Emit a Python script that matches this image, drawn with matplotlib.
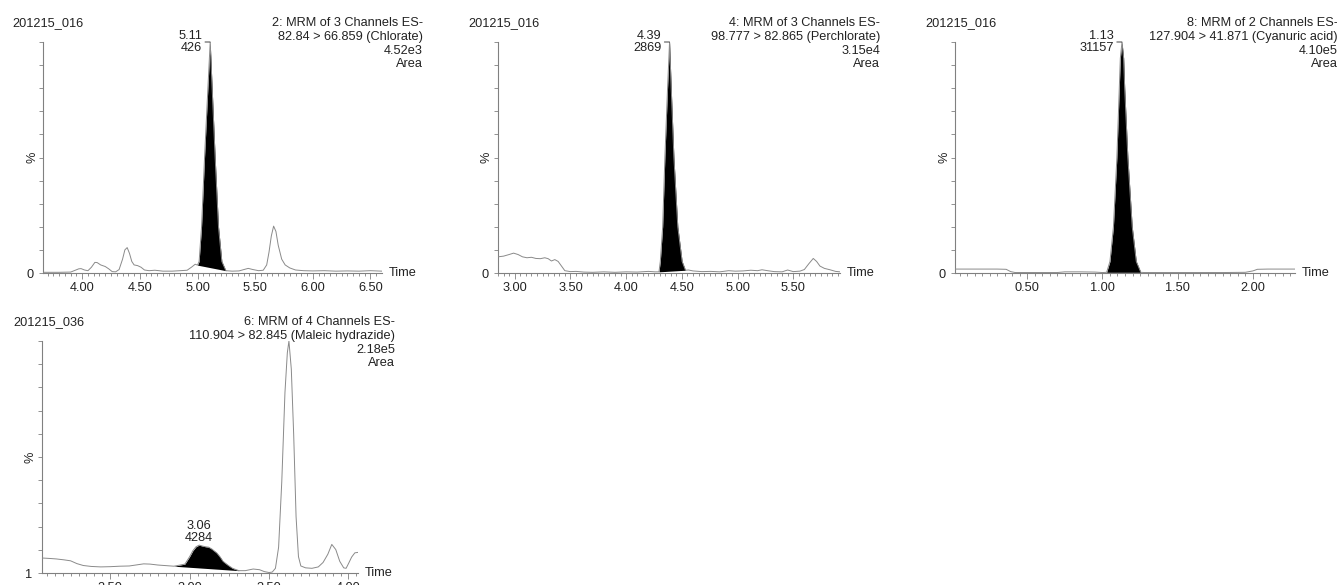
import matplotlib
matplotlib.use("Agg")
import matplotlib.pyplot as plt
from matplotlib.transforms import offset_copy
import numpy as np

plt.rcParams['font.family'] = ['Liberation Sans', 'DejaVu Sans']
plt.rcParams['font.size'] = 9.2

W, H = 1337, 585
TXT = '#222222'
AXC = '#808080'
LINE = '#8a8a8a'

# ---- panel 1: chlorate ----
p1_time = [3.66, 3.80, 3.90, 3.94, 3.97, 3.99, 4.02, 4.05, 4.08, 4.11, 4.13, 4.16, 4.20, 4.23,
           4.26, 4.29, 4.32, 4.35, 4.37, 4.39, 4.41, 4.43, 4.45, 4.48, 4.51, 4.54, 4.58, 4.63,
           4.70, 4.78, 4.85, 4.91, 4.95, 4.98, 5.00, 5.014, 5.035, 5.061, 5.09, 5.11, 5.127,
           5.153, 5.182, 5.211, 5.246, 5.30, 5.36, 5.41, 5.44, 5.48, 5.53, 5.57, 5.60, 5.62,
           5.64, 5.66, 5.68, 5.70, 5.73, 5.76, 5.80, 5.85, 5.92, 6.00, 6.10, 6.20, 6.30, 6.40,
           6.50, 6.60]
p1_pct = [0.3, 0.3, 0.4, 1.2, 1.8, 1.9, 1.3, 1.0, 2.5, 4.6, 4.5, 3.5, 2.8, 1.8,
          0.6, 0.5, 1.5, 6.0, 10.0, 11.0, 8.5, 5.0, 3.5, 3.2, 2.5, 1.3, 1.0, 1.2,
          0.8, 0.8, 1.0, 1.2, 2.6, 3.8, 3.4, 5.0, 20.0, 50.0, 80.0, 100.0, 80.0,
          50.0, 20.0, 5.0, 1.0, 0.8, 0.9, 1.6, 2.0, 1.5, 1.0, 1.2, 3.5, 9.0,
          16.0, 20.3, 18.0, 12.0, 6.0, 3.5, 2.2, 1.3, 1.0, 0.9, 1.0, 0.8, 0.9, 0.8,
          1.0, 0.8]

# ---- panel 2: perchlorate ----
p2_time = [2.85, 2.90, 2.95, 2.99, 3.03, 3.07, 3.11, 3.15, 3.19, 3.23, 3.27, 3.30, 3.33, 3.36,
           3.39, 3.42, 3.45, 3.50, 3.55, 3.62, 3.70, 3.80, 3.90, 4.00, 4.10, 4.20, 4.26, 4.295,
           4.307, 4.328, 4.348, 4.372, 4.39, 4.405, 4.429, 4.464, 4.503, 4.533, 4.56, 4.60,
           4.68, 4.76, 4.84, 4.92, 4.98, 5.05, 5.12, 5.18, 5.22, 5.27, 5.33, 5.40, 5.45, 5.50,
           5.56, 5.60, 5.64, 5.68, 5.71, 5.74, 5.78, 5.83, 5.88, 5.92]
p2_pct = [7.0, 7.3, 8.0, 8.6, 8.0, 7.0, 6.6, 6.8, 6.3, 6.2, 6.6, 6.2, 5.2, 5.8,
          5.0, 3.0, 1.0, 0.6, 0.7, 0.4, 0.3, 0.5, 0.3, 0.5, 0.4, 0.7, 0.5, 0.5,
          5.0, 20.0, 50.0, 80.0, 100.0, 80.0, 50.0, 20.0, 5.0, 1.2, 1.3, 0.9,
          0.6, 0.7, 0.5, 1.0, 0.8, 0.9, 1.2, 1.0, 1.4, 1.0, 0.6, 0.5, 1.3, 0.6,
          0.8, 1.5, 4.0, 6.3, 5.0, 3.0, 2.0, 1.4, 0.7, 0.5]

# ---- panel 3: cyanuric acid ----
p3_time = [0.02, 0.10, 0.20, 0.30, 0.36, 0.39, 0.42, 0.50, 0.60, 0.70, 0.75, 0.85, 0.95, 1.00,
           1.028, 1.05, 1.073, 1.096, 1.112, 1.119, 1.13, 1.141, 1.148, 1.169, 1.198, 1.225,
           1.255, 1.28, 1.40, 1.60, 1.80, 1.95, 2.00, 2.03, 2.10, 2.20, 2.28]
p3_pct = [1.7, 1.7, 1.7, 1.7, 1.6, 0.6, 0.2, 0.2, 0.2, 0.2, 0.5, 0.5, 0.4, 0.2,
          0.3, 5.0, 20.0, 50.0, 80.0, 93.0, 100.0, 93.0, 80.0, 50.0, 20.0, 5.0,
          0.3, 0.2, 0.2, 0.2, 0.2, 0.3, 0.9, 1.6, 1.7, 1.7, 1.7]

# ---- panel 4: maleic hydrazide ----
p4_time = [2.07, 2.12, 2.16, 2.21, 2.25, 2.29, 2.33, 2.38, 2.44, 2.50, 2.56, 2.62, 2.67, 2.71,
           2.75, 2.80, 2.86, 2.90, 2.94, 2.97, 3.00, 3.02, 3.04, 3.06, 3.08, 3.10, 3.12, 3.14,
           3.17, 3.19, 3.21, 3.24, 3.27, 3.31, 3.35, 3.40, 3.44, 3.47, 3.50, 3.52, 3.54, 3.56,
           3.58, 3.60, 3.615, 3.625, 3.64, 3.655, 3.67, 3.685, 3.70, 3.73, 3.77, 3.81, 3.84,
           3.87, 3.895, 3.92, 3.945, 3.97, 3.985, 4.00, 4.02, 4.04, 4.06]
p4_pct = [7.4, 7.2, 7.0, 6.6, 6.2, 5.0, 4.2, 3.8, 3.6, 3.7, 3.9, 4.0, 4.5, 4.9,
          4.8, 4.4, 4.1, 3.9, 4.4, 4.8, 8.0, 10.5, 12.2, 12.9, 12.5, 12.2, 12.0, 11.2,
          9.6, 8.0, 6.0, 4.4, 3.0, 2.0, 2.0, 2.7, 2.4, 1.6, 1.2, 1.4, 3.0, 12.0,
          40.0, 78.0, 95.0, 100.0, 88.0, 60.0, 25.0, 8.0, 4.0, 3.2, 3.0, 3.6, 5.5,
          9.0, 13.2, 11.0, 6.0, 3.2, 3.0, 5.0, 7.8, 9.6, 9.8]

samples = ['201215_016', '201215_016', '201215_016', '201215_036']
headers = [
    ['2: MRM of 3 Channels ES-', '82.84 > 66.859 (Chlorate)', '4.52e3', 'Area'],
    ['4: MRM of 3 Channels ES-', '98.777 > 82.865 (Perchlorate)', '3.15e4', 'Area'],
    ['8: MRM of 2 Channels ES-', '127.904 > 41.871 (Cyanuric acid)', '4.10e5', 'Area'],
    ['6: MRM of 4 Channels ES-', '110.904 > 82.845 (Maleic hydrazide)', '2.18e5', 'Area'],
]
peak_rt = ['5.11', '4.39', '1.13', '3.06']
peak_area = ['426', '2869', '31157', '4284']
# integration: (start time, start %, end time, end %)
integ = [(5.00, 3.4, 5.246, 1.0), (4.295, 0.5, 4.533, 1.2),
         (1.028, 0.3, 1.255, 0.3), (2.90, 3.9, 3.31, 2.0)]
xlims = [(3.66, 6.60), (2.85, 5.92), (0.02, 2.28), (2.07, 4.06)]
xticklabels = [['4.00', '4.50', '5.00', '5.50', '6.00', '6.50'],
               ['3.00', '3.50', '4.00', '4.50', '5.00', '5.50'],
               ['0.50', '1.00', '1.50', '2.00'],
               ['2.50', '3.00', '3.50', '4.00']]
ybottom = [0, 0, 0, 1]

# pixel boxes: left, top, right, bottom
boxes = [(43, 42, 382, 273), (498, 42, 840, 273), (955, 42, 1295, 273), (42, 341, 358, 573)]
name_x = [12, 468, 925, 13]
head_right = [423, 880, 1338, 395]
head_top = [23, 23, 23, 322]

traces = [(p1_time, p1_pct), (p2_time, p2_pct), (p3_time, p3_pct), (p4_time, p4_pct)]

fig = plt.figure(figsize=(W / 100, H / 100), dpi=100)

for i in range(4):
    l, t, r, b = boxes[i]
    ax = fig.add_axes([l / W, 1 - b / H, (r - l) / W, (b - t) / H])
    tt = np.array(traces[i][0])
    yy = np.array(traces[i][1])

    # integrated peak, filled black down to a straight baseline
    t0, y0, t1, y1 = integ[i]
    m = (tt >= t0 - 1e-9) & (tt <= t1 + 1e-9)
    base = np.interp(tt[m], [t0, t1], [y0, y1])
    ax.fill_between(tt[m], base, yy[m], color='black', lw=0, zorder=2)
    ax.plot(tt, yy, color=LINE, lw=0.7, zorder=3)

    ax.set_xlim(*xlims[i])
    ax.set_ylim(ybottom[i], 100)
    for s in ['top', 'right']:
        ax.spines[s].set_visible(False)
    for s in ['left', 'bottom']:
        ax.spines[s].set_color(AXC)
        ax.spines[s].set_linewidth(0.8)

    major = [float(v) for v in xticklabels[i]]
    ax.set_xticks(major)
    ax.set_xticklabels(xticklabels[i])
    lo, hi = xlims[i]
    minor = np.arange(np.ceil(lo / 0.05) * 0.05, hi, 0.05)
    ax.set_xticks(minor, minor=True)
    ax.tick_params(axis='x', which='major', length=4, width=0.6, color=AXC,
                   labelcolor=TXT, pad=2.5, labelsize=9.2)
    ax.tick_params(axis='x', which='minor', length=2.5, width=0.6, color=AXC)
    ax.set_yticks(np.linspace(ybottom[i], 100, 11))
    ax.set_yticklabels([str(ybottom[i])] + [''] * 10)
    ax.tick_params(axis='y', length=3, width=0.6, color=AXC, labelcolor=TXT,
                   pad=4, labelsize=9.2)

    ax.text(1, 0, 'Time', transform=offset_copy(ax.transAxes, fig=fig, x=7, y=0, units='dots'),
            ha='left', va='center', color=TXT, fontsize=9.2)
    ax.text(0, 0.5, '%', transform=offset_copy(ax.transAxes, fig=fig, x=-11, y=0, units='dots'),
            ha='center', va='center', rotation=90, color=TXT, fontsize=9.2)

    # peak labels
    apex = float(peak_rt[i])
    k = int(np.argmin(np.abs(tt - apex)))
    if i < 3:
        ax.annotate(peak_rt[i] + '\n' + peak_area[i], xy=(apex, yy[k]),
                    xytext=(-8, 0), textcoords='offset pixels', ha='right', va='center',
                    fontsize=9.2, color=TXT, linespacing=1.05,
                    arrowprops=dict(arrowstyle='-', color=TXT, lw=0.6,
                                    shrinkA=0, shrinkB=0, relpos=(1, 0.5)),
                    annotation_clip=False)
    else:
        ax.annotate(peak_area[i], xy=(apex, yy[k]), xytext=(0, 7),
                    textcoords='offset pixels', ha='center', va='center',
                    fontsize=9.2, color=TXT)
        ax.annotate(peak_rt[i], xy=(apex, yy[k]), xytext=(0, 19),
                    textcoords='offset pixels', ha='center', va='center',
                    fontsize=9.2, color=TXT)

    # header texts
    fig.text(name_x[i] / W, 1 - head_top[i] / H, samples[i], ha='left', va='center',
             color=TXT, fontsize=9.2)
    for j, line in enumerate(headers[i]):
        fig.text(head_right[i] / W, 1 - (head_top[i] + 13.8 * j) / H, line,
                 ha='right', va='center', color=TXT, fontsize=9.2)

fig.savefig('out.png', dpi=100)
